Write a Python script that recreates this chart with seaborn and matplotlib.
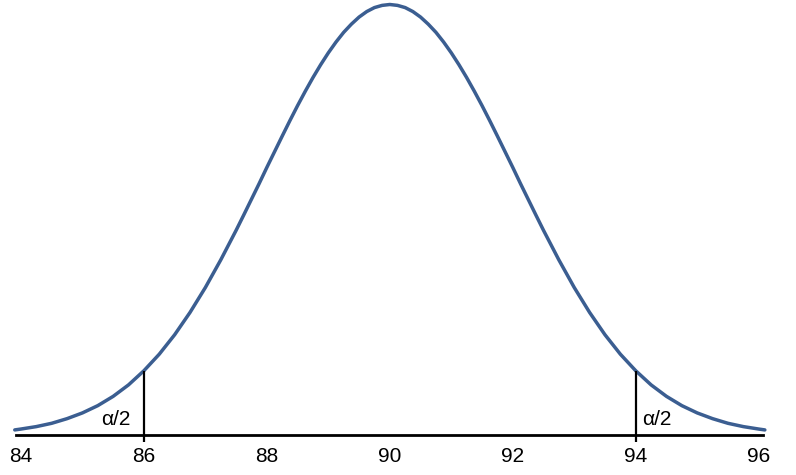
import matplotlib
matplotlib.use("Agg")
import matplotlib.pyplot as plt
import seaborn as sns
import pandas as pd

# Curve values (density heights), left half up to the peak
left_x = [83.9, 84.0, 84.25, 84.5, 84.75, 85.0, 85.25, 85.5, 85.75, 86.0, 86.25, 86.5, 86.75,
          87.0, 87.25, 87.5, 87.625, 87.75, 87.875, 88.0, 88.125, 88.25, 88.375, 88.5,
          88.625, 88.75, 88.875, 89.0, 89.125, 89.25, 89.375, 89.5, 89.625, 89.75, 89.875]
left_d = [0.0023, 0.0027, 0.0038, 0.0053, 0.0074, 0.0100, 0.0133, 0.0175, 0.0227, 0.0291,
          0.0366, 0.0454, 0.0555, 0.0668, 0.0793, 0.0927, 0.0997, 0.1068, 0.1139, 0.1212,
          0.1283, 0.1354, 0.1424, 0.1492, 0.1557, 0.1619, 0.1677, 0.1731, 0.1780, 0.1824,
          0.1861, 0.1893, 0.1918, 0.1936, 0.1946]
peak_x = 90.0
peak_d = 0.1950

x_vals = left_x + [peak_x] + [180 - v for v in left_x[::-1]]
density = left_d + [peak_d] + left_d[::-1]

tick_values = [84, 86, 88, 90, 92, 94, 96]
cutoffs = [86, 94]
cutoff_heights = [0.0291, 0.0291]
cutoff_labels = ["α/2", "α/2"]

df = pd.DataFrame({"x": x_vals, "density": density})

sns.set_style("white")
plt.rcParams["font.family"] = ["Liberation Sans", "DejaVu Sans"]
plt.rcParams["text.color"] = "black"
plt.rcParams["xtick.color"] = "black"

fig = plt.figure(figsize=(7.96, 4.75), dpi=100)
ax = fig.add_axes([16/796, 40/475, (763-16)/796, 435/475])

sns.lineplot(data=df, x="x", y="density", ax=ax, color="#3B5E91", linewidth=2.5,
             clip_on=False, sort=True)
for ln in ax.lines:
    ln.set_solid_joinstyle("round")
    ln.set_solid_capstyle("round")

ytop = 0.195 * 435 / 430.5
ax.set_xlim(83.92, 96.07)
ax.set_ylim(0, ytop)

# critical value lines
ymin_ext = -ytop * 7 / 435
for c, h in zip(cutoffs, cutoff_heights):
    ax.vlines(c, ymin_ext, h, color="black", linewidth=1.6, clip_on=False, zorder=3)

ax.text(cutoffs[0] - 0.22, 0.0025, cutoff_labels[0], ha="right", va="bottom",
        fontsize=15, color="black")
ax.text(cutoffs[1] + 0.1, 0.0025, cutoff_labels[1], ha="left", va="bottom",
        fontsize=15, color="black")

sns.despine(ax=ax, left=True, top=True, right=True)
ax.spines["bottom"].set_linewidth(2.0)
ax.spines["bottom"].set_color("black")
ax.set_yticks([])
ax.set_xticks(tick_values)
ax.set_xticklabels([str(t) for t in tick_values])
ax.tick_params(axis="x", length=0, pad=9, labelsize=15, labelcolor="black")
ax.set_xlabel("")
ax.set_ylabel("")

fig.savefig("out.png", dpi=100)
